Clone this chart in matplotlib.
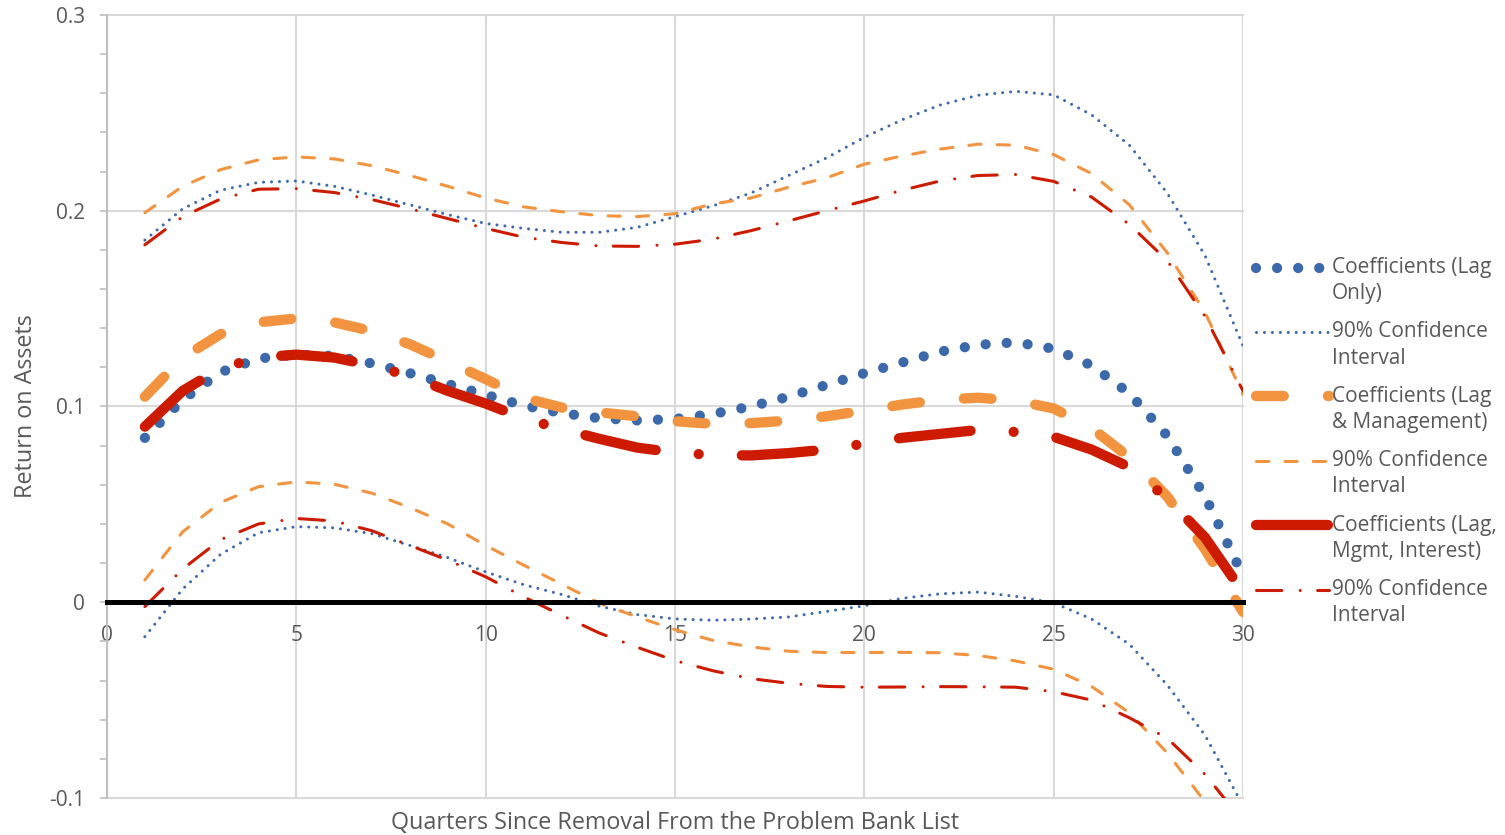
import matplotlib.pyplot as plt
from matplotlib.ticker import MultipleLocator
from matplotlib.legend_handler import HandlerLine2D

# quarters since removal
quarters = list(range(1, 31))

# Coefficients (Lag Only) + 90% CI
lag_coef = [0.084, 0.1035, 0.1175, 0.1245, 0.1265, 0.1258, 0.122, 0.117, 0.1115, 0.106,
            0.1005, 0.0967, 0.094, 0.0929, 0.0936, 0.0962, 0.1, 0.105, 0.111, 0.117,
            0.1225, 0.128, 0.1315, 0.1328, 0.1295, 0.121, 0.1067, 0.085, 0.054, 0.0135]
lag_hi = [0.185, 0.201, 0.2105, 0.2145, 0.2152, 0.2125, 0.208, 0.203, 0.198, 0.1935,
          0.191, 0.189, 0.189, 0.1915, 0.197, 0.2025, 0.209, 0.218, 0.227, 0.2375,
          0.2465, 0.254, 0.259, 0.261, 0.2592, 0.249, 0.2335, 0.209, 0.177, 0.131]
lag_lo = [-0.0176, 0.0068, 0.0245, 0.0355, 0.0386, 0.038, 0.035, 0.029, 0.0228, 0.0155,
          0.009, 0.004, -0.002, -0.0063, -0.0085, -0.0092, -0.0086, -0.0075, -0.0047, -0.0018,
          0.002, 0.0043, 0.0052, 0.003, -0.0003, -0.0085, -0.0215, -0.0423, -0.068, -0.104]

# Coefficients (Lag & Management) + 90% CI
mgmt_coef = [0.105, 0.125, 0.137, 0.143, 0.145, 0.143, 0.1385, 0.1318, 0.123, 0.114,
             0.1045, 0.0995, 0.097, 0.095, 0.0925, 0.0911, 0.0915, 0.0928, 0.095, 0.0979,
             0.101, 0.1034, 0.1045, 0.103, 0.099, 0.089, 0.074, 0.054, 0.027, -0.005]
mgmt_hi = [0.199, 0.2125, 0.221, 0.226, 0.2275, 0.2265, 0.223, 0.218, 0.2125, 0.2065,
           0.202, 0.1995, 0.1975, 0.197, 0.1985, 0.2035, 0.2065, 0.212, 0.2168, 0.2238,
           0.228, 0.2315, 0.234, 0.2335, 0.2287, 0.219, 0.203, 0.1785, 0.148, 0.106]
mgmt_lo = [0.0114, 0.036, 0.051, 0.059, 0.0615, 0.0603, 0.0557, 0.0483, 0.040, 0.029,
           0.019, 0.0093, -0.0005, -0.0075, -0.014, -0.0195, -0.0228, -0.025, -0.0257, -0.0257,
           -0.0256, -0.0258, -0.0272, -0.030, -0.0342, -0.043, -0.0565, -0.077, -0.102, -0.135]

# Coefficients (Lag, Mgmt, Interest) + 90% CI
int_coef = [0.0897, 0.108, 0.1195, 0.125, 0.1265, 0.125, 0.121, 0.1155, 0.108, 0.1015,
            0.094, 0.0885, 0.0835, 0.079, 0.0765, 0.0752, 0.075, 0.0762, 0.078, 0.081,
            0.084, 0.086, 0.088, 0.087, 0.0845, 0.078, 0.069, 0.053, 0.033, 0.005]
int_hi = [0.1826, 0.197, 0.206, 0.211, 0.2113, 0.2093, 0.2057, 0.201, 0.196, 0.191,
          0.1865, 0.1838, 0.182, 0.1818, 0.1829, 0.1855, 0.1898, 0.1948, 0.2, 0.205,
          0.2105, 0.2152, 0.218, 0.2185, 0.215, 0.207, 0.193, 0.1745, 0.146, 0.108]
int_lo = [-0.0022, 0.017, 0.032, 0.040, 0.0428, 0.0415, 0.0365, 0.029, 0.0215, 0.013,
          0.0028, -0.0066, -0.0157, -0.023, -0.0298, -0.035, -0.039, -0.0414, -0.043, -0.0434,
          -0.0433, -0.0431, -0.0432, -0.0434, -0.0457, -0.050, -0.059, -0.0695, -0.088, -0.112]

labels = ["Coefficients (Lag\nOnly)", "90% Confidence\nInterval",
          "Coefficients (Lag\n& Management)", "90% Confidence\nInterval",
          "Coefficients (Lag,\nMgmt, Interest)", "90% Confidence\nInterval"]

blue = "#3C69AA"
orange = "#F2943F"
red = "#CC1B00"
gray = "#595959"


# legend line sits on the first text line, like Excel
class FirstLineHandler(HandlerLine2D):
    def create_artists(self, legend, orig_handle, xdescent, ydescent,
                       width, height, fontsize, trans):
        arts = super().create_artists(legend, orig_handle, xdescent, ydescent,
                                      width, height, fontsize, trans)
        for a in arts:
            a.set_ydata([y + 9.8 for y in a.get_ydata()])
        return arts


plt.rcParams['font.family'] = ['Open Sans', 'DejaVu Sans']

fig = plt.figure(figsize=(15.05, 8.35), dpi=100)
ax = fig.add_axes([107 / 1505, 37 / 835, 1136 / 1505, 783 / 835])

# thick coefficient lines, thin CI lines
ax.plot(quarters, lag_coef, color=blue, lw=7.4, dashes=(0.001, 2.05),
        dash_capstyle='round', label=labels[0])
ax.plot(quarters, lag_hi, color=blue, lw=2.2, dashes=(0.001, 2.6),
        dash_capstyle='round', label=labels[1])
ax.plot(quarters, lag_lo, color=blue, lw=2.2, dashes=(0.001, 2.6),
        dash_capstyle='round')

ax.plot(quarters, mgmt_coef, color=orange, lw=7.4, dashes=(2.7, 4.3),
        dash_capstyle='round', label=labels[2])
ax.plot(quarters, mgmt_hi, color=orange, lw=2.2, dashes=(4, 5.3),
        dash_capstyle='round', label=labels[3])
ax.plot(quarters, mgmt_lo, color=orange, lw=2.2, dashes=(4, 5.3),
        dash_capstyle='round')

ax.plot(quarters, int_coef, color=red, lw=7.4, dashes=(7.0, 4.2, 0.001, 4.2),
        dash_capstyle='round', label=labels[4])
ax.plot(quarters, int_hi, color=red, lw=2.2, dashes=(8.3, 6, 0.001, 5.7),
        dash_capstyle='round', label=labels[5])
ax.plot(quarters, int_lo, color=red, lw=2.2, dashes=(8.3, 6, 0.001, 5.7),
        dash_capstyle='round')

ax.set_xlim(0, 30)
ax.set_ylim(-0.1, 0.3)
ax.xaxis.set_major_locator(MultipleLocator(5))
ax.yaxis.set_major_locator(MultipleLocator(0.1))
ax.yaxis.set_minor_locator(MultipleLocator(0.02))
ax.yaxis.set_major_formatter(lambda v, p: "0" if abs(v) < 1e-9 else f"{v:.1f}")
ax.xaxis.set_major_formatter(lambda v, p: f"{v:.0f}")

ax.grid(True, which='major', color='#d9d9d9', lw=1.5)
ax.set_axisbelow(True)
for gl in ax.get_ygridlines():
    gl.set_clip_on(False)

# x axis crosses at 0
ax.spines['bottom'].set_position(('data', 0))
ax.spines['bottom'].set_color('black')
ax.spines['bottom'].set_linewidth(3.6)
ax.spines['left'].set_color('#bfbfbf')
ax.spines['left'].set_linewidth(1.5)
ax.spines['top'].set_visible(False)
ax.spines['right'].set_visible(False)

ax.tick_params(axis='x', length=0, pad=16.5, labelsize=15, labelcolor=gray)
ax.tick_params(axis='y', which='both', direction='out', length=5, width=1.2,
               color='#bfbfbf', pad=11, labelsize=15, labelcolor=gray)
ax.tick_params(axis='y', which='minor', labelleft=False)

ax.set_xlabel("Quarters Since Removal From the Problem Bank List", fontsize=16.8, color=gray)
ax.xaxis.set_label_coords(0.5, -0.017)
ax.set_ylabel("Return on Assets", fontsize=16.8, color=gray)
ax.yaxis.set_label_coords(-0.061, 0.5)

leg = ax.legend(loc='upper left', bbox_to_anchor=(1256 / 1505, 1 - 257 / 835),
                bbox_transform=fig.transFigure, frameon=False, fontsize=15,
                handlelength=3.5, handletextpad=0.15, labelspacing=0.83,
                borderpad=0, borderaxespad=0, labelcolor=gray,
                handler_map={plt.Line2D: FirstLineHandler()})
for t in leg.get_texts():
    t.set_linespacing(1.32)

fig.savefig("out.png", dpi=100)
